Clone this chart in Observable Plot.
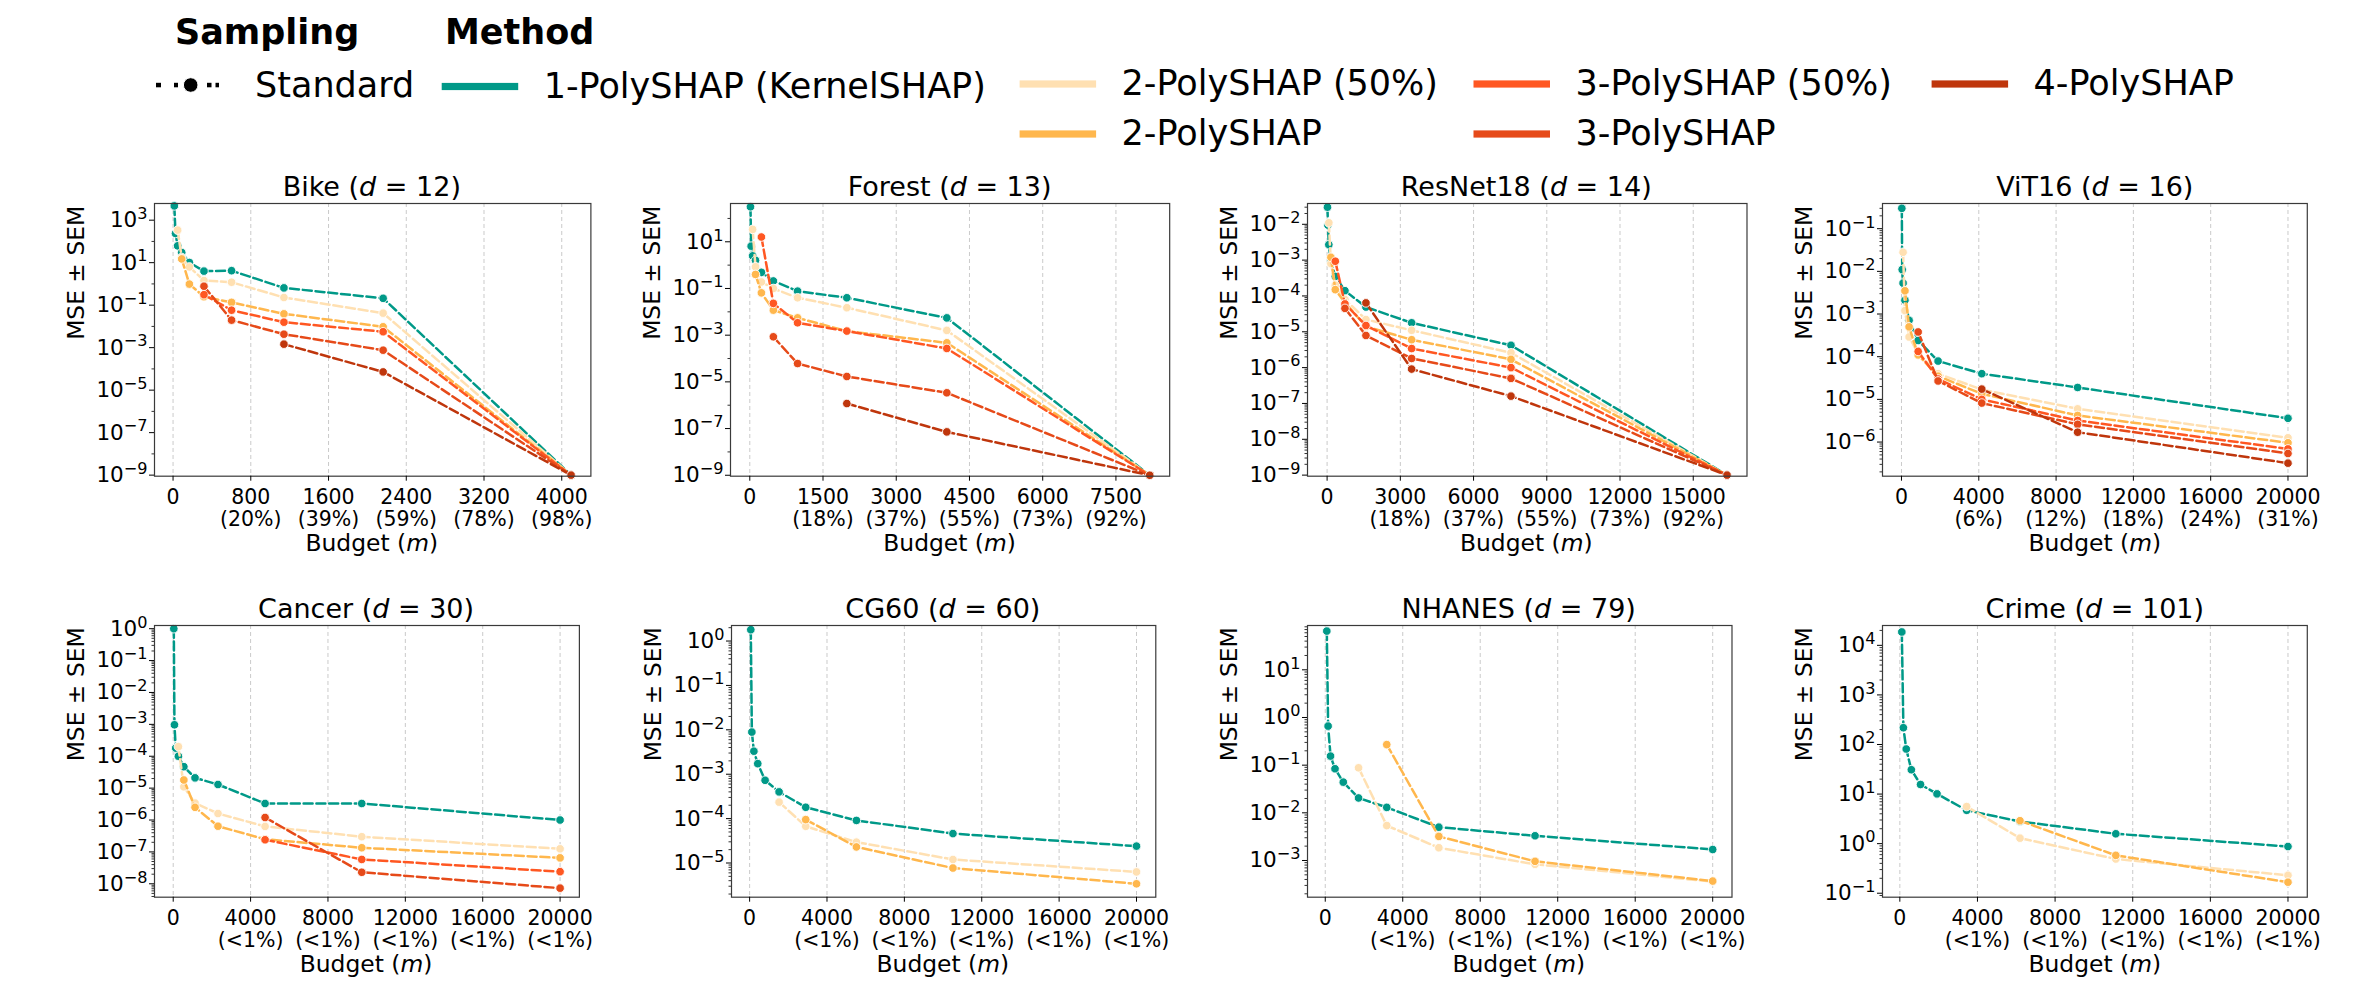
<!DOCTYPE html>
<html><head><meta charset="utf-8">
<script src="https://cdn.jsdelivr.net/npm/d3@7"></script>
<script src="https://cdn.jsdelivr.net/npm/@observablehq/plot@0.6"></script>
<style>
body{margin:0;background:#fff;}
#root{position:relative;width:2379px;height:985px;font-family:"DejaVu Sans",sans-serif;color:#000;overflow:hidden;}
.abs{position:absolute;white-space:nowrap;}
</style></head><body><div id="root"></div>
<script>
// ---------------- DATA ----------------
const methods = ["1-PolySHAP (KernelSHAP)", "2-PolySHAP (50%)", "2-PolySHAP", "3-PolySHAP (50%)", "3-PolySHAP", "4-PolySHAP"];
const methodColors = ["#009988", "#FFE0B2", "#FFB74D", "#FF5722", "#E64A19", "#BF360C"];

// Bike (d = 12)
const bikeBudget = [13, 25, 47, 89, 168, 318, 602, 1141, 2162, 4096];
const bikeK1  = [4700, 237, 62, 30, 10.2, 4.0, 4.2, 0.65, 0.21, 1e-9];
const bikeK2h = [null, null, 340, 17.6, 6.3, 1.44, 1.2, 0.23, 0.042, 1e-9];
const bikeK2  = [null, null, null, 15, 0.98, 0.25, 0.135, 0.039, 0.0096, 1e-9];
const bikeK3h = [null, null, null, null, null, 0.31, 0.058, 0.0158, 0.0056, 1e-9];
const bikeK3  = [null, null, null, null, null, 0.78, 0.0197, 0.0043, 7.6e-4, 1e-9];
const bikeK4  = [null, null, null, null, null, null, null, 0.00146, 7.2e-5, 1e-9];

// Forest (d = 13)
const forestBudget = [14, 28, 58, 117, 238, 483, 979, 1988, 4036, 8192];
const forestK1  = [316, 6.5, 2.5, 1.6, 0.49, 0.21, 0.077, 0.04, 0.0055, 1e-9];
const forestK2h = [null, null, 34, 0.85, 0.19, 0.1, 0.04, 0.015, 0.0016, 1e-9];
const forestK2  = [null, null, null, 0.4, 0.065, 0.0118, 0.0055, 0.0015, 4.7e-4, 1e-9];
const forestK3h = [null, null, null, null, 16, 0.023, 0.0034, 0.0015, 2.7e-4, 1e-9];
const forestK3  = [null, null, null, null, null, 8.5e-4, 6.1e-5, 1.7e-5, 3.4e-6, 1e-9];
const forestK4  = [null, null, null, null, null, null, null, 1.18e-6, 7.2e-8, 1e-9];

// ResNet18 (d = 14)
const resnetBudget = [15, 33, 71, 155, 336, 731, 1591, 3462, 7533, 16384];
const resnetK1  = [0.030, 0.0095, 0.0027, 9e-4, 3.5e-4, 1.4e-4, 4.9e-5, 1.78e-5, 4.2e-6, 1e-9];
const resnetK2h = [null, null, 0.011, 8e-4, 2.0e-4, 8e-5, 2.2e-5, 1.1e-5, 2.6e-6, 1e-9];
const resnetK2  = [null, null, null, 1.2e-3, 1.5e-4, 6.5e-5, 1.4e-5, 6e-6, 1.7e-6, 1e-9];
const resnetK3h = [null, null, null, null, 9.3e-4, 6e-5, 1.5e-5, 3.4e-6, 1.0e-6, 1e-9];
const resnetK3  = [null, null, null, null, null, 4.5e-5, 7.9e-6, 1.8e-6, 5.0e-7, 1e-9];
const resnetK4  = [null, null, null, null, null, null, 6.4e-5, 9.1e-7, 1.6e-7, 1e-9];

// ViT16 (d = 16)
const vitBudget = [17, 37, 82, 179, 394, 863, 1894, 4155, 9114, 20000];
const vitK1  = [0.30, 0.011, 0.0053, 0.0021, 7.1e-4, 2.4e-4, 7.9e-5, 4.0e-5, 1.9e-5, 3.6e-6];
const vitK2h = [null, null, 0.028, 1.2e-3, 2.9e-4, 1.2e-4, 4.0e-5, 1.7e-5, 6.0e-6, 1.26e-6];
const vitK2  = [null, null, null, 0.0035, 5e-4, 1.1e-4, 3.5e-5, 1.35e-5, 4.2e-6, 9.6e-7];
const vitK3h = [null, null, null, null, null, 1.33e-4, 3.0e-5, 1.0e-5, 3.2e-6, 6.9e-7];
const vitK3  = [null, null, null, null, null, 3.8e-4, 2.7e-5, 8.2e-6, 2.6e-6, 5.4e-7];
const vitK4  = [null, null, null, null, null, null, null, 1.74e-5, 1.7e-6, 3.2e-7];

// Cancer (d = 30)
const cancerBudget = [31, 64, 131, 268, 550, 1128, 2315, 4750, 9747, 20000];
const cancerK1  = [1.0, 9.7e-4, 1.8e-4, 1.0e-4, 4.7e-5, 2.1e-5, 1.3e-5, 3.3e-6, 3.3e-6, 1.0e-6];
const cancerK2h = [null, null, null, 2.0e-4, 1.1e-5, 3.4e-6, 1.6e-6, 6.3e-7, 3.0e-7, 1.25e-7];
const cancerK2  = [null, null, null, null, 1.8e-5, 2.5e-6, 6.4e-7, 2.5e-7, 1.35e-7, 6.5e-8];
const cancerK3h = [null, null, null, null, null, null, null, 2.4e-7, 5.8e-8, 2.4e-8];
const cancerK3  = [null, null, null, null, null, null, null, 1.2e-6, 2.3e-8, 7.3e-9];

// CG60 (d = 60)
const cg60Budget = [61, 116, 221, 421, 801, 1524, 2901, 5522, 10511, 20000];
const cg60K1  = [1.8, 0.0089, 0.0033, 1.73e-3, 7.3e-4, 4.0e-4, 1.8e-4, 9.1e-5, 4.6e-5, 2.4e-5];
const cg60K2h = [null, null, null, null, null, 2.35e-4, 6.7e-5, 2.95e-5, 1.2e-5, 6.3e-6];
const cg60K2  = [null, null, null, null, null, null, 9.5e-5, 2.3e-5, 7.7e-6, 3.4e-6];

// NHANES (d = 79)
const nhanesBudget = [80, 148, 273, 504, 931, 1719, 3175, 5864, 10830, 20000];
const nhanesK1  = [65, 0.66, 0.155, 0.084, 0.044, 0.0205, 0.013, 0.005, 0.0033, 0.0017];
const nhanesK2h = [null, null, null, null, null, 0.088, 0.0054, 0.00185, 8.3e-4, 3.6e-4];
const nhanesK2  = [null, null, null, null, null, null, 0.27, 0.0032, 9.6e-4, 3.7e-4];

// Crime (d = 101)
const crimeBudget = [102, 183, 330, 593, 1066, 1915, 3443, 6190, 11128, 20000];
const crimeK1  = [18600, 218, 81, 31, 15.6, 10.1, 4.7, 2.8, 1.58, 0.875];
const crimeK2h = [null, null, null, null, null, null, 5.6, 1.29, 0.49, 0.23];
const crimeK2  = [null, null, null, null, null, null, null, 2.9, 0.58, 0.167];

// Tick labels
const bikeXTicks = [0, 800, 1600, 2400, 3200, 4000];
const bikeXPct = ["", "(20%)", "(39%)", "(59%)", "(78%)", "(98%)"];
const forestXTicks = [0, 1500, 3000, 4500, 6000, 7500];
const forestXPct = ["", "(18%)", "(37%)", "(55%)", "(73%)", "(92%)"];
const resnetXTicks = [0, 3000, 6000, 9000, 12000, 15000];
const resnetXPct = ["", "(18%)", "(37%)", "(55%)", "(73%)", "(92%)"];
const vitXTicks = [0, 4000, 8000, 12000, 16000, 20000];
const vitXPct = ["", "(6%)", "(12%)", "(18%)", "(24%)", "(31%)"];
const bigXTicks = [0, 4000, 8000, 12000, 16000, 20000];
const bigXPct = ["", "(<1%)", "(<1%)", "(<1%)", "(<1%)", "(<1%)"];

const bikeYTicks = [1e3, 1e1, 1e-1, 1e-3, 1e-5, 1e-7, 1e-9];
const forestYTicks = [1e1, 1e-1, 1e-3, 1e-5, 1e-7, 1e-9];
const resnetYTicks = [1e-2, 1e-3, 1e-4, 1e-5, 1e-6, 1e-7, 1e-8, 1e-9];
const vitYTicks = [1e-1, 1e-2, 1e-3, 1e-4, 1e-5, 1e-6];
const cancerYTicks = [1e0, 1e-1, 1e-2, 1e-3, 1e-4, 1e-5, 1e-6, 1e-7, 1e-8];
const cg60YTicks = [1e0, 1e-1, 1e-2, 1e-3, 1e-4, 1e-5];
const nhanesYTicks = [1e1, 1e0, 1e-1, 1e-2, 1e-3];
const crimeYTicks = [1e4, 1e3, 1e2, 1e1, 1e0, 1e-1];

// ---------------- PANELS ----------------
const panels = [
  {title: "Bike", d: 12, budget: bikeBudget, series: [bikeK1, bikeK2h, bikeK2, bikeK3h, bikeK3, bikeK4],
   xDomain: [-191, 4300], yDomain: [10 ** -9.05, 10 ** 3.785], xTicks: bikeXTicks, xPct: bikeXPct, yTicks: bikeYTicks, sparse: true},
  {title: "Forest", d: 13, budget: forestBudget, series: [forestK1, forestK2h, forestK2, forestK3h, forestK3, forestK4],
   xDomain: [-395, 8601], yDomain: [10 ** -9.04, 10 ** 2.64], xTicks: forestXTicks, xPct: forestXPct, yTicks: forestYTicks, sparse: true},
  {title: "ResNet18", d: 14, budget: resnetBudget, series: [resnetK1, resnetK2h, resnetK2, resnetK3h, resnetK3, resnetK4],
   xDomain: [-803, 17202], yDomain: [10 ** -9.03, 10 ** -1.42], xTicks: resnetXTicks, xPct: resnetXPct, yTicks: resnetYTicks},
  {title: "ViT16", d: 16, budget: vitBudget, series: [vitK1, vitK2h, vitK2, vitK3h, vitK3, vitK4],
   xDomain: [-982, 20999], yDomain: [10 ** -6.80, 10 ** -0.41], xTicks: vitXTicks, xPct: vitXPct, yTicks: vitYTicks},
  {title: "Cancer", d: 30, budget: cancerBudget, series: [cancerK1, cancerK2h, cancerK2, cancerK3h, cancerK3],
   xDomain: [-967, 20998], yDomain: [10 ** -8.42, 10 ** 0.10], xTicks: bigXTicks, xPct: bigXPct, yTicks: cancerYTicks},
  {title: "CG60", d: 60, budget: cg60Budget, series: [cg60K1, cg60K2h, cg60K2],
   xDomain: [-936, 20997], yDomain: [10 ** -5.77, 10 ** 0.35], xTicks: bigXTicks, xPct: bigXPct, yTicks: cg60YTicks},
  {title: "NHANES", d: 79, budget: nhanesBudget, series: [nhanesK1, nhanesK2h, nhanesK2],
   xDomain: [-916, 20996], yDomain: [10 ** -3.77, 10 ** 1.93], xTicks: bigXTicks, xPct: bigXPct, yTicks: nhanesYTicks},
  {title: "Crime", d: 101, budget: crimeBudget, series: [crimeK1, crimeK2h, crimeK2],
   xDomain: [-893, 20995], yDomain: [10 ** -1.08, 10 ** 4.40], xTicks: bigXTicks, xPct: bigXPct, yTicks: crimeYTicks}
];

// Layout (frame boxes in page pixels)
const layout = [
  {L: 153.6, R: 590.0, T: 203.3, B: 476.0},
  {L: 730.0, R: 1169.2, T: 203.3, B: 476.0},
  {L: 1306.5, R: 1746.0, T: 203.3, B: 476.0},
  {L: 1882.4, R: 2307.2, T: 203.3, B: 476.0},
  {L: 153.6, R: 578.5, T: 625.0, B: 896.7},
  {L: 730.7, R: 1155.0, T: 625.0, B: 896.7},
  {L: 1306.5, R: 1731.0, T: 625.0, B: 896.7},
  {L: 1882.4, R: 2307.2, T: 625.0, B: 896.7}
];

// ---------------- DRAW ----------------
const root = document.getElementById("root");
const SUP = {"-": "\u207B", "0": "\u2070", "1": "\u00B9", "2": "\u00B2", "3": "\u00B3", "4": "\u2074", "5": "\u2075", "6": "\u2076", "7": "\u2077", "8": "\u2078", "9": "\u2079"};
const INV = Object.fromEntries(Object.entries(SUP).map(([k, v]) => [v, k]));
const fmtLog = v => "10" + String(Math.round(Math.log10(v))).split("").map(c => SUP[c]).join("");

function minorTicks(domain, sparse, major) {
  const lo = Math.log10(domain[0]), hi = Math.log10(domain[1]);
  const out = [];
  for (let e = Math.floor(lo) - 1; e <= Math.ceil(hi); e++) {
    if (sparse) {
      const v = 10 ** e;
      if (e >= lo && e <= hi && !major.some(m => Math.abs(Math.log10(m) - e) < 1e-6)) out.push(v);
    } else {
      for (let k = 2; k <= 9; k++) {
        const v = k * 10 ** e;
        const lv = Math.log10(v);
        if (lv >= lo && lv <= hi) out.push(v);
      }
    }
  }
  return out;
}

function addText(html, x, cy, size, opts = {}) {
  const el = document.createElement("div");
  el.className = "abs";
  el.innerHTML = html;
  el.style.fontSize = size + "px";
  el.style.lineHeight = size + "px";
  el.style.top = (cy - size * 0.5) + "px";
  el.style.left = x + "px";
  if (opts.center) el.style.transform = "translateX(-50%)";
  if (opts.bold) el.style.fontWeight = "bold";
  root.appendChild(el);
}

const mL = 100, mR = 50, mT = 10, mB = 60;

panels.forEach((p, pi) => {
  const box = layout[pi];
  const fw = box.R - box.L, fh = box.B - box.T;
  const xLabel = new Map(p.xTicks.map((t, i) => [t, p.xPct[i] ? `${t}\n${p.xPct[i]}` : `${t}`]));
  const marks = [
    Plot.gridX(p.xTicks, {stroke: "#b8b8b8", strokeOpacity: 0.75, strokeDasharray: "4,3", strokeWidth: 1})
  ];
  p.series.forEach((vals, si) => {
    const pts = p.budget.map((b, j) => ({budget: b, mse: vals[j]})).filter(d => d.mse != null);
    marks.push(Plot.line(pts, {x: "budget", y: "mse", stroke: methodColors[si], strokeWidth: 2.5, strokeDasharray: "9,3.8"}));
    marks.push(Plot.dot(pts, {x: "budget", y: "mse", r: 4.3, fill: methodColors[si], stroke: "white", strokeWidth: 0.9}));
  });
  marks.push(
    Plot.frame({stroke: "#3a3a3a", strokeWidth: 1.2}),
    Plot.axisX(p.xTicks, {tickFormat: d => xLabel.get(d), tickSize: 5, tickPadding: 6, fontSize: 20.5, lineHeight: 1.12, label: null}),
    Plot.axisY(p.yTicks, {tickFormat: fmtLog, tickSize: 5, tickPadding: 2, fontSize: 21.5, label: null}),
    Plot.axisY(minorTicks(p.yDomain, p.sparse, p.yTicks), {tickFormat: () => "", tickSize: 2.5, strokeWidth: 0.8, label: null}),
    Plot.text(["MSE \u00B1 SEM"], {frameAnchor: "left", dx: -78, rotate: -90, fontSize: 23.4})
  );
  const chart = Plot.plot({
    width: mL + fw + mR,
    height: mT + fh + mB,
    marginLeft: mL, marginRight: mR, marginTop: mT, marginBottom: mB,
    x: {domain: p.xDomain},
    y: {type: "log", domain: p.yDomain},
    style: {fontFamily: "DejaVu Sans", fontSize: "20.5px", color: "#000", background: "transparent", overflow: "visible"},
    marks
  });
  // render exponents as real superscripts (mathtext-like)
  d3.select(chart).selectAll("text").each(function () {
    const t = d3.select(this);
    if (t.selectAll("tspan").size() > 0) return;
    const s = t.text();
    if (!/^10[\u207B\u2070\u00B9\u00B2\u00B3\u2074-\u2079]+$/.test(s)) return;
    const exp = s.slice(2).split("").map(c => INV[c]).join("").replace("-", "\u2212");
    t.text(null);
    t.append("tspan").text("10");
    t.append("tspan").attr("dy", "-0.5em").attr("font-size", "0.75em").text(exp);
  });
  const wrap = document.createElement("div");
  wrap.className = "abs";
  wrap.style.left = (box.L - mL) + "px";
  wrap.style.top = (box.T - mT) + "px";
  wrap.appendChild(chart);
  root.appendChild(wrap);
  const cx = (box.L + box.R) / 2;
  addText(`${p.title} (<i>d</i> = ${p.d})`, cx, box.T - 17, 27, {center: true});
  addText(`Budget (<i>m</i>)`, cx, box.B + 68, 23.4, {center: true});
});

// ---------------- LEGEND ----------------
addText("Sampling", 175, 32, 35, {bold: true});
addText("Method", 445, 32, 35, {bold: true});
addText("Standard", 255, 85, 35);
const legendItems = [
  {name: methods[0], color: methodColors[0], x: 441.7, cy: 86.5},
  {name: methods[1], color: methodColors[1], x: 1019.6, cy: 84},
  {name: methods[2], color: methodColors[2], x: 1019.6, cy: 134},
  {name: methods[3], color: methodColors[3], x: 1473.5, cy: 84},
  {name: methods[4], color: methodColors[4], x: 1473.5, cy: 134},
  {name: methods[5], color: methodColors[5], x: 1931.6, cy: 84}
];
const lsvg = d3.select(root).append("svg").attr("class", "abs").style("left", "0px").style("top", "0px")
  .attr("width", 2379).attr("height", 170);
[[156, 161], [174, 178], [207, 211.5], [215.5, 219]].forEach(([a, b]) => {
  lsvg.append("rect").attr("x", a).attr("y", 82.8).attr("width", b - a).attr("height", 4.5).attr("fill", "#000");
});
lsvg.append("circle").attr("cx", 190.7).attr("cy", 85).attr("r", 7.3).attr("fill", "#000").attr("stroke", "#fff").attr("stroke-width", 1);
legendItems.forEach(it => {
  lsvg.append("rect").attr("x", it.x).attr("y", it.cy - 3.6).attr("width", 76.5).attr("height", 7.2).attr("fill", it.color);
  addText(it.name, it.x + 102, it.cy - 0.5, 35);
});
</script></body></html>
